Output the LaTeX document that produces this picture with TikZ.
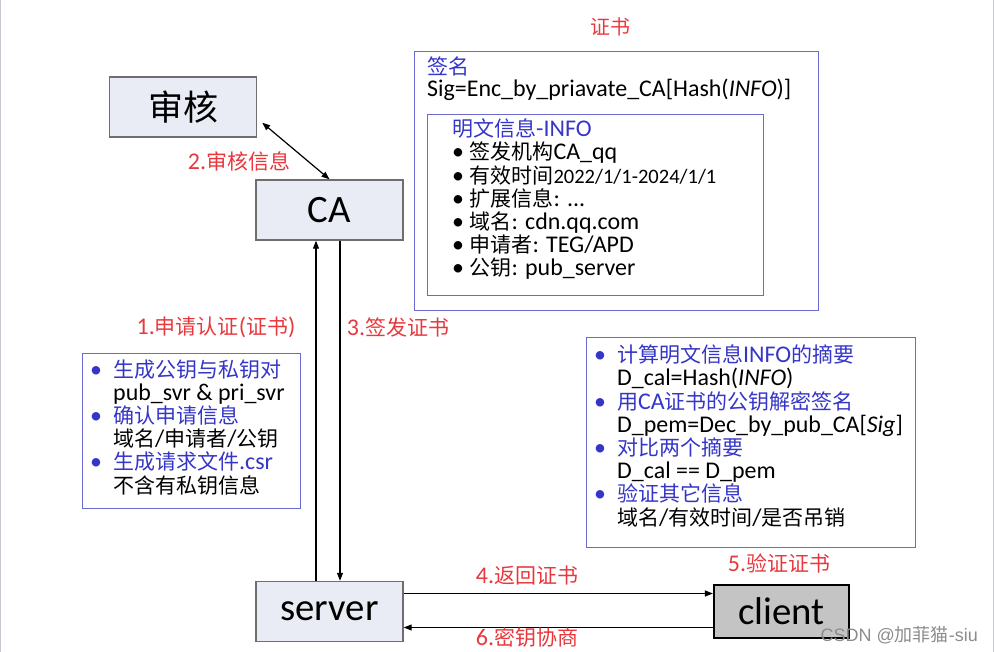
\documentclass[tikz,border=0pt]{standalone}
\usepackage{fontspec}
\setmainfont{Carlito}[Scale=1.14]
\newfontfamily\cjk{Noto Sans CJK SC}
\newfontfamily\wmfont{Liberation Sans}
\usetikzlibrary{arrows.meta}

\definecolor{boxfill}{HTML}{E9ECF5}
\definecolor{boxline}{HTML}{6E6E6E}
\definecolor{frameblue}{HTML}{6A6AD0}
\definecolor{textblue}{HTML}{3535C8}
\definecolor{labelred}{HTML}{E8383D}
\definecolor{clientfill}{HTML}{C4C4C4}
\definecolor{edgegray}{HTML}{C8C8D0}

\newcommand{\zh}[1]{{\cjk #1}}
\newcommand{\body}{\fontsize{21}{23.2}\selectfont}
\newcommand{\ibul}{\makebox[23pt][l]{\textbullet}}
\newcommand{\ind}{\hspace*{23pt}}
\newcommand{\bl}[1]{\textcolor{textblue}{#1}}

\begin{document}
\begin{tikzpicture}[x=1pt, y=-1pt, >={Triangle[length=8pt,width=6pt]}]
        \tikzstyle{entity}=[draw=boxline, line width=1.4pt, fill=boxfill, minimum width=147pt, minimum height=60pt, inner sep=0pt, font=\fontsize{34}{36}\selectfont]
        \tikzstyle{frame}=[draw=frameblue, line width=1.2pt, inner sep=0pt]
        \tikzstyle{step label}=[text=labelred, font=\fontsize{21}{23}\selectfont, inner sep=1pt]
        \useasboundingbox (0,0) rectangle (994,652);
        \draw[edgegray, line width=1.2pt] (0.6,0) -- (0.6,652);
        \draw[edgegray, line width=1.2pt] (993.4,0) -- (993.4,652);

        % parties
        \node[entity, font=\fontsize{35}{37}\selectfont] (audit) at (183,107) {\zh{审核}};
        \node[entity] (ca) at (329.5,210) {CA};
        \node[entity] (server) at (329.5,611.5) {server};
        \node[entity, draw=black, line width=2.2pt, fill=clientfill, minimum width=135pt, minimum height=53pt] (client) at (781.5,611.5) {client};

        % certificate
        \node[frame, minimum width=404pt, minimum height=259pt, anchor=north west] (cert) at (414,51) {};
        \node[frame, minimum width=336pt, minimum height=181pt, anchor=north west] (info) at (427,114) {};
        \node[text=labelred, font=\fontsize{20}{22}\selectfont] (certtitle) at (610,27) {\zh{证书}};
        \node[anchor=base west, inner sep=0pt, font=\body] (sig) at (427,75) {\bl{\zh{签名}}};
        \node[anchor=base west, inner sep=0pt, font=\body] (sigeq) at (427,97) {Sig=Enc\_by\_priavate\_CA[Hash(\textit{INFO})]};
        \node[anchor=base west, inner sep=0pt, align=left, font=\body] (infolist) at (452,276) {%
            \bl{\zh{明文信息}-INFO}\\
            \textbullet\ \zh{签发机构}CA\_qq\\
            \textbullet\ \zh{有效时间}{\fontsize{18}{23.2}\selectfont 2022/1/1-2024/1/1}\\
            \textbullet\ \zh{扩展信息}: ...\\
            \textbullet\ \zh{域名}: cdn.qq.com\\
            \textbullet\ \zh{申请者}: TEG/APD\\
            \textbullet\ \zh{公钥}: pub\_server};

        % request
        \node[frame, minimum width=218pt, minimum height=155pt, anchor=north west] (reqbox) at (82,353) {};
        \node[anchor=base west, inner sep=0pt, align=left, font=\body] (reqlist) at (90,493) {%
            \bl{\ibul\zh{生成公钥与私钥对}}\\
            \ind pub\_svr \& pri\_svr\\
            \bl{\ibul\zh{确认申请信息}}\\
            \ind\zh{域名}/\zh{申请者}/\zh{公钥}\\
            \bl{\ibul\zh{生成请求文件}.csr}\\
            \ind\zh{不含有私钥信息}};

        % verify
        \node[frame, minimum width=329pt, minimum height=210pt, anchor=north west] (verbox) at (586,337) {};
        \node[anchor=base west, inner sep=0pt, align=left, font=\body] (verlist) at (594,525) {%
            \bl{\ibul\zh{计算明文信息}INFO\zh{的摘要}}\\
            \ind D\_cal=Hash(\textit{INFO})\\
            \bl{\ibul\zh{用}CA\zh{证书的公钥解密签名}}\\
            \ind D\_pem=Dec\_by\_pub\_CA[\textit{Sig}]\\
            \bl{\ibul\zh{对比两个摘要}}\\
            \ind D\_cal == D\_pem\\
            \bl{\ibul\zh{验证其它信息}}\\
            \ind\zh{域名}/\zh{有效时间}/\zh{是否吊销}};

        % flows
        \draw[<->, line width=1.2pt] ([shift={(5pt,15pt)}]audit.south east) -- (ca.north);
        \draw[->, line width=1.2pt] ([xshift=-13.5pt]server.north) -- ([xshift=-13.5pt]ca.south);
        \draw[->, line width=1.2pt] ([xshift=10.5pt]ca.south) -- ([xshift=10.5pt]server.north);
        \draw[->, line width=1.2pt] ([yshift=18pt]server.east) -- ([yshift=18pt]client.west);
        \draw[->, line width=1.2pt] ([yshift=-16pt]client.west) -- ([yshift=-16pt]server.east);

        \node[step label] (l2) at (239,161) {2.\zh{审核信息}};
        \node[step label] (l1) at (216,327) {1.\zh{申请认证}(\zh{证书})};
        \node[step label] (l3) at (398,327) {3.\zh{签发证书}};
        \node[step label] (l4) at (527,576) {4.\zh{返回证书}};
        \node[step label] (l5) at (779,563) {5.\zh{验证证书}};
        \node[step label] (l6) at (527,637) {6.\zh{密钥协商}};

        \node[anchor=base east, inner sep=0pt, text=black!45, font=\fontsize{18}{20}\selectfont\wmfont] (mark) at (978,641) {CSDN @\zh{加菲猫}-siu};
\end{tikzpicture}
\end{document}
